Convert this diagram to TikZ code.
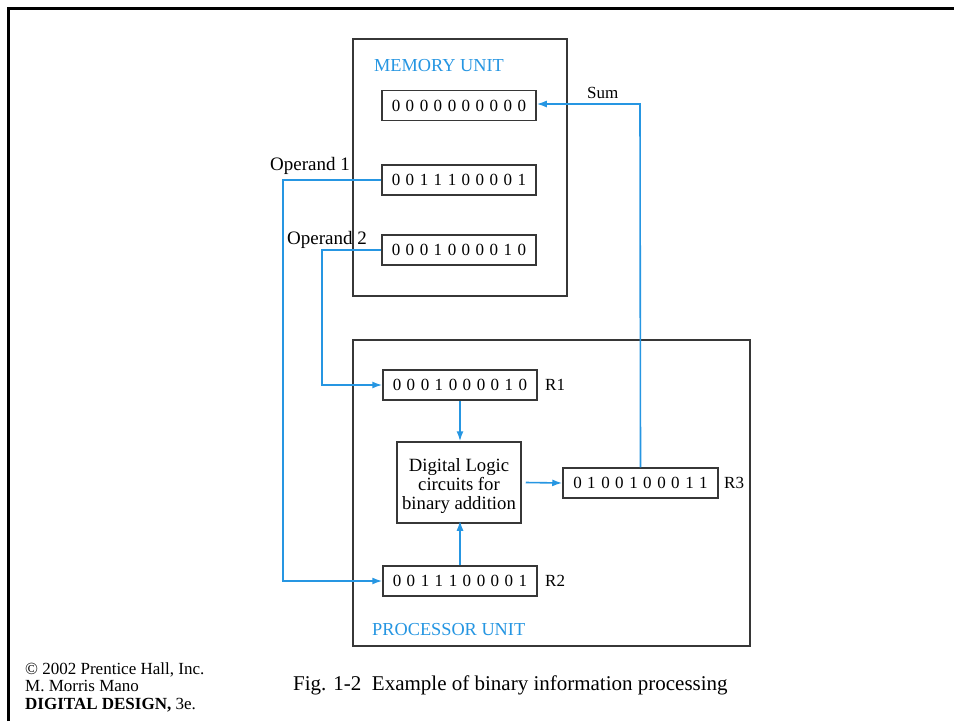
\documentclass[tikz,border=0pt]{standalone}
\usepackage{fontspec}
\setmainfont{Liberation Serif}
\usetikzlibrary{arrows.meta}
\definecolor{fblue}{RGB}{38,150,226}
\definecolor{boxgray}{RGB}{55,55,55}
\newcommand{\bits}[1]{\fontsize{17}{20}\selectfont\bitsfirst#1\relax}
\def\bitsfirst#1{#1\bitsloop}
\def\bitsloop#1{\ifx#1\relax\else\hspace{5.5pt}#1\expandafter\bitsloop\fi}
\tikzset{
  reg/.style={draw=boxgray, line width=1.5pt, minimum width=154pt, minimum height=30pt, inner sep=0pt, font=\fontsize{17}{20}\selectfont},
  unit/.style={draw=boxgray, line width=1.5pt},
  lbl/.style={inner sep=0pt, font=\fontsize{17}{20}\selectfont},
  oplbl/.style={inner sep=0pt, font=\fontsize{19}{22}\selectfont},
  bluelbl/.style={inner sep=0pt, text=fblue, font=\fontsize{18.3}{20}\selectfont},
  conn/.style={draw=fblue, line width=1.6pt, -{Latex[length=10pt,width=7pt]}},
}
\begin{document}
\begin{tikzpicture}[x=1pt,y=-1pt]
\useasboundingbox (0,0) rectangle (954,721);
\fill[white] (0,0) rectangle (954,721);
% frame
\draw[line width=2.8pt] (8.3,721) -- (8.3,8.7) -- (954,8.7);
% units
\draw[unit] (353,39) rectangle (567,296);
\draw[unit] (353,340) rectangle (750,646);
\node[bluelbl, anchor=base west] (mu) at (374,71) {MEMORY UNIT};
\node[bluelbl, anchor=base west] (pu) at (372,635) {PROCESSOR UNIT};
% memory registers
\node[reg] (m1) at (459,105.5) {\bits{0000000000}};
\node[reg] (m2) at (459,180) {\bits{0011100001}};
\node[reg] (m3) at (459,250) {\bits{0001000010}};
% processor registers
\node[reg] (r1) at (460,385) {\bits{0001000010}};
\node[reg] (r2) at (460,581) {\bits{0011100001}};
\node[reg, minimum width=155pt] (r3) at (640.5,483) {\bits{0100100011}};
\node[draw=boxgray, line width=1.5pt, minimum width=124pt, minimum height=81pt, inner sep=0pt] (logic) at (459,482.5) {};
\node[inner sep=0pt, align=center, font=\fontsize{18.7}{18.8}\selectfont] (logictext) at (459,486) {Digital Logic\\circuits for\\binary addition};
\node[lbl, anchor=west] (r1l) at (545,385) {R1};
\node[lbl, anchor=west] (r2l) at (545,581) {R2};
\node[lbl, anchor=west] (r3l) at (724,483) {R3};
% labels
\node[oplbl, anchor=base west] (op1) at (270,170) {Operand 1};
\node[oplbl, anchor=base west] (op2) at (287,244) {Operand 2};
\node[lbl, anchor=base west] (sum) at (587,98) {Sum};
% connectors
\coordinate (c1a) at (283,180);
\coordinate (c1b) at (283,581);
\coordinate (c2a) at (322,250);
\coordinate (c2b) at (322,385);
\coordinate (cs) at (640,104);
\draw[conn] (m2.west) -- (c1a) -- (c1b) -- (r2.west);
\draw[conn] (m3.west) -- (c2a) -- (c2b) -- (r1.west);
\draw[conn] (r3.north) -- (cs) -- (m1.east |- cs);
\draw[conn] (r1.south) -- (r1.south |- logic.north);
\draw[conn] (r2.north) -- ([yshift=3pt]r2.north |- logic.south);
\draw[conn] ([xshift=4pt]logic.east) -- (r3.west);
% footer
\node[inner sep=0pt, anchor=base west, font=\fontsize{17}{18}\selectfont] (f1) at (25,674) {\textcopyright{} 2002 Prentice Hall, Inc.};
\node[inner sep=0pt, anchor=base west, font=\fontsize{17}{18}\selectfont] (f2) at (25,691.5) {M. Morris Mano};
\node[inner sep=0pt, anchor=base west, font=\fontsize{17}{18}\selectfont] (f3) at (25,709) {\textbf{DIGITAL DESIGN,} 3e.};
\node[inner sep=0pt, anchor=base west, font=\fontsize{21}{24}\selectfont] (cap) at (293,690) {Fig. 1-2\hspace{0.5em}Example of binary information processing};
\end{tikzpicture}
\end{document}
